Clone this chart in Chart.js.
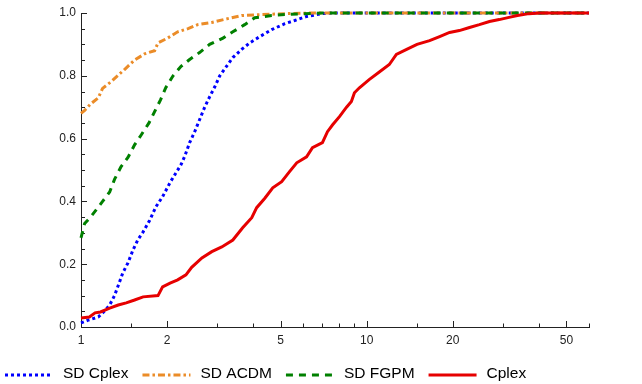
<!DOCTYPE html>
<html>
<head>
<meta charset="utf-8">
<script src="https://cdn.jsdelivr.net/npm/chart.js@4"></script>
<style>
  body { margin: 0; background: #fff; }
  #wrap { width: 642px; height: 384px; }
</style>
</head>
<body>
<div id="wrap"><canvas id="myChart" width="642" height="384"></canvas></div>
<script>
// performance profile data
const sdCplexX = [1, 1.06, 1.15, 1.2, 1.26, 1.31, 1.36, 1.4, 1.46, 1.52, 1.58, 1.65, 1.74, 1.83, 1.93, 2.05, 2.13, 2.24, 2.31, 2.4, 2.5, 2.6, 2.71, 2.82, 2.94, 3.06, 3.23, 3.4, 3.65, 3.9, 4.23, 4.65, 5.17, 5.6, 6.16, 7.0, 7.6, 60];
const sdCplexY = [0.013, 0.022, 0.032, 0.048, 0.07, 0.1, 0.14, 0.172, 0.204, 0.245, 0.277, 0.303, 0.34, 0.383, 0.415, 0.46, 0.485, 0.517, 0.545, 0.587, 0.622, 0.66, 0.7, 0.733, 0.765, 0.8, 0.83, 0.858, 0.884, 0.905, 0.925, 0.947, 0.966, 0.976, 0.989, 0.998, 1, 1];

const sdAcdmX = [1, 1.03, 1.08, 1.15, 1.19, 1.27, 1.42, 1.54, 1.67, 1.81, 1.86, 2.01, 2.18, 2.37, 2.56, 2.87, 3.26, 3.65, 4.29, 5.2, 6.5, 60];
const sdAcdmY = [0.68, 0.69, 0.71, 0.73, 0.76, 0.78, 0.82, 0.85, 0.87, 0.88, 0.905, 0.92, 0.94, 0.95, 0.963, 0.97, 0.982, 0.992, 0.995, 0.998, 1, 1];

const sdFgpmX = [1, 1.03, 1.08, 1.13, 1.19, 1.26, 1.31, 1.38, 1.46, 1.54, 1.62, 1.73, 1.81, 1.9, 1.98, 2.1, 2.24, 2.4, 2.6, 2.82, 3.14, 3.4, 3.74, 4.06, 4.65, 5.2, 7, 60];
const sdFgpmY = [0.284, 0.33, 0.35, 0.373, 0.4, 0.43, 0.47, 0.51, 0.54, 0.58, 0.61, 0.65, 0.686, 0.724, 0.762, 0.8, 0.83, 0.852, 0.874, 0.9, 0.92, 0.94, 0.963, 0.985, 0.992, 0.995, 1, 1];

const cplexX = [1, 1.07, 1.12, 1.17, 1.26, 1.35, 1.44, 1.54, 1.65, 1.86, 1.93, 2.05, 2.18, 2.33, 2.44, 2.65, 2.87, 3.11, 3.4, 3.68, 3.96, 4.12, 4.4, 4.69, 5.04, 5.37, 5.69, 6.16, 6.46, 7.0, 7.29, 7.6, 8.03, 8.5, 8.84, 9.06, 9.43, 10.2, 11.1, 12.0, 12.7, 13.8, 15.0, 16.6, 18.0, 19.5, 21.1, 22.9, 24.8, 26.9, 29.1, 31.5, 33.7, 37.0, 40.2, 60];
const cplexY = [0.029, 0.032, 0.045, 0.048, 0.06, 0.07, 0.077, 0.086, 0.096, 0.1, 0.128, 0.14, 0.15, 0.166, 0.19, 0.22, 0.24, 0.255, 0.277, 0.316, 0.348, 0.38, 0.41, 0.443, 0.463, 0.495, 0.523, 0.542, 0.571, 0.587, 0.622, 0.644, 0.67, 0.70, 0.718, 0.746, 0.762, 0.788, 0.813, 0.836, 0.868, 0.884, 0.90, 0.912, 0.925, 0.938, 0.944, 0.954, 0.963, 0.973, 0.979, 0.986, 0.992, 0.998, 1, 1];

const seriesNames = ['SD Cplex', 'SD ACDM', 'SD FGPM', 'Cplex'];

const xTicks = [1, 2, 5, 10, 20, 50];
const xMinorTicks = [1.5, 3, 4, 6, 7, 8, 9, 15, 30, 40, 60];
const yTicks = [0, 0.2, 0.4, 0.6, 0.8, 1.0];
const yMinorTicks = [0.05, 0.1, 0.15, 0.25, 0.3, 0.35, 0.45, 0.5, 0.55, 0.65, 0.7, 0.75, 0.85, 0.9, 0.95];

const FONT = "'Liberation Sans', Arial, sans-serif";
const AXIS_COLOR = '#222';

function toPoints(xs, ys) {
    return xs.map((x, i) => ({ x: x, y: ys[i] }));
}

// ticks inside the frame, like the original plot
const tickMarks = {
    id: 'tickMarks',
    beforeDatasetsDraw(chart) {
        const { ctx, chartArea, scales: { x, y } } = chart;
        ctx.save();
        ctx.strokeStyle = AXIS_COLOR;
        ctx.lineWidth = 1;
        ctx.beginPath();
        const xMark = (v, len) => {
            const px = Math.round(x.getPixelForValue(v)) + 0.5;
            ctx.moveTo(px, chartArea.bottom);
            ctx.lineTo(px, chartArea.bottom - len);
        };
        const yMark = (v, len) => {
            const py = Math.round(y.getPixelForValue(v)) + 0.5;
            ctx.moveTo(chartArea.left, py);
            ctx.lineTo(chartArea.left + len, py);
        };
        xTicks.forEach(v => xMark(v, 6));
        xMinorTicks.forEach(v => xMark(v, 3.5));
        yTicks.forEach(v => yMark(v, 6));
        yMinorTicks.forEach(v => yMark(v, 4));
        ctx.stroke();
        ctx.restore();
    }
};

// legend row at the bottom with line samples
const lineLegend = {
    id: 'lineLegend',
    afterDraw(chart) {
        const ctx = chart.ctx;
        const yLine = 375;
        let x = 5;
        ctx.save();
        ctx.font = '15.5px ' + FONT;
        ctx.textBaseline = 'middle';
        chart.data.datasets.forEach(ds => {
            ctx.beginPath();
            ctx.strokeStyle = ds.borderColor;
            ctx.lineWidth = ds.borderWidth;
            ctx.setLineDash(ds.borderDash || []);
            ctx.moveTo(x, yLine);
            ctx.lineTo(x + 48, yLine);
            ctx.stroke();
            ctx.setLineDash([]);
            ctx.fillStyle = '#000';
            ctx.fillText(ds.label, x + 58, yLine - 1);
            x += 58 + ctx.measureText(ds.label).width + 14;
        });
        ctx.restore();
    }
};

const ctx = document.getElementById('myChart');

new Chart(ctx, {
    type: 'line',
    data: {
        datasets: [
            {
                label: seriesNames[0],
                data: toPoints(sdCplexX, sdCplexY),
                borderColor: 'rgb(0, 0, 255)',
                borderWidth: 3,
                borderDash: [3, 3],
                order: 4
            },
            {
                label: seriesNames[1],
                data: toPoints(sdAcdmX, sdAcdmY),
                borderColor: 'rgb(235, 140, 40)',
                borderWidth: 3,
                borderDash: [7, 3, 2.5, 3],
                order: 3
            },
            {
                label: seriesNames[2],
                data: toPoints(sdFgpmX, sdFgpmY),
                borderColor: 'rgb(0, 128, 0)',
                borderWidth: 3,
                borderDash: [7, 6],
                order: 2
            },
            {
                label: seriesNames[3],
                data: toPoints(cplexX, cplexY),
                borderColor: 'rgb(230, 0, 0)',
                borderWidth: 3,
                order: 1
            }
        ]
    },
    options: {
        responsive: false,
        animation: false,
        layout: {
            padding: { top: 13, right: 53, left: 0, bottom: 0 }
        },
        elements: {
            point: { radius: 0 },
            line: { tension: 0, fill: false }
        },
        datasets: {
            line: { clip: 4 }
        },
        plugins: {
            legend: { display: false },
            tooltip: { enabled: false }
        },
        scales: {
            x: {
                type: 'logarithmic',
                min: 1,
                max: 60,
                grid: { display: false, drawTicks: false },
                border: { display: true, color: AXIS_COLOR, width: 1 },
                afterBuildTicks: scale => {
                    scale.ticks = xTicks.map(v => ({ value: v }));
                },
                afterFit: scale => {
                    scale.height = 57;
                },
                ticks: {
                    autoSkip: false,
                    maxRotation: 0,
                    padding: 6,
                    color: AXIS_COLOR,
                    font: { family: FONT, size: 12 },
                    callback: value => String(value)
                }
            },
            y: {
                min: 0,
                max: 1,
                grid: { display: false, drawTicks: false },
                border: { display: true, color: AXIS_COLOR, width: 1 },
                afterBuildTicks: scale => {
                    scale.ticks = yTicks.map(v => ({ value: v }));
                },
                afterFit: scale => {
                    scale.width = 81;
                },
                ticks: {
                    padding: 5,
                    color: AXIS_COLOR,
                    font: { family: FONT, size: 12 },
                    callback: value => value.toFixed(1)
                }
            }
        }
    },
    plugins: [tickMarks, lineLegend]
});
</script>
</body>
</html>
